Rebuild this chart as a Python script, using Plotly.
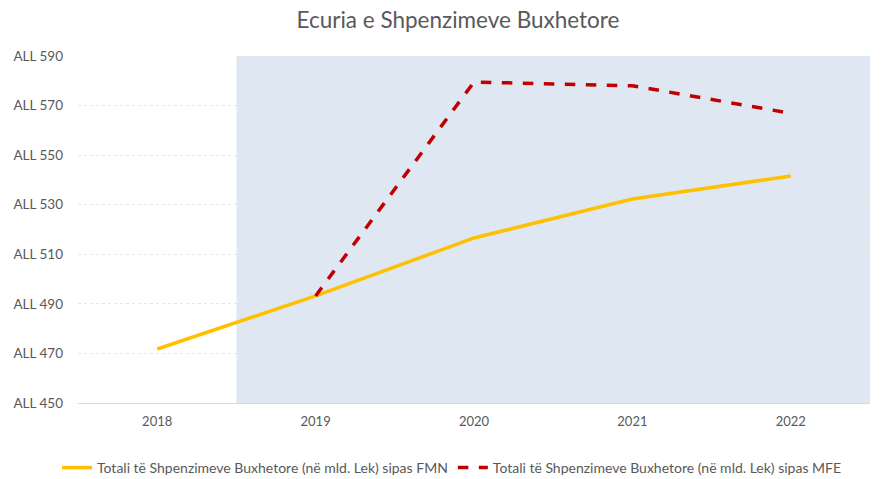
import plotly.graph_objects as go

years = ["2018", "2019", "2020", "2021", "2022"]
fmn_values = [471.8, 493.2, 516.6, 532.3, 541.6]
mfe_years = ["2019", "2020", "2021", "2022"]
mfe_values = [493.2, 579.5, 578.0, 566.9]
y_ticks = [450, 470, 490, 510, 530, 550, 570, 590]
y_tick_labels = ["ALL " + str(v) for v in y_ticks]

name_fmn = "Totali të Shpenzimeve Buxhetore (në mld. Lek) sipas FMN"
name_mfe = "Totali të Shpenzimeve Buxhetore (në mld. Lek) sipas MFE"

FONT = "Lato, 'Open Sans', sans-serif"

fig = go.Figure()
fig.add_trace(go.Scatter(x=years, y=fmn_values, mode="lines", name=name_fmn,
                         line=dict(color="#FFC000", width=3.5)))
fig.add_trace(go.Scatter(x=mfe_years, y=mfe_values, mode="lines", name=name_mfe,
                         line=dict(color="#C00000", width=3.5, dash="dash")))

fig.add_shape(type="rect", xref="x", yref="paper", x0=0.5, x1=4.5, y0=0, y1=1,
              fillcolor="#DFE7F2", line=dict(width=0), layer="below")

fig.update_layout(
    width=890, height=479,
    margin=dict(l=78, r=20, t=56, b=76, autoexpand=False),
    paper_bgcolor="white", plot_bgcolor="white",
    font=dict(family=FONT, color="#595959", size=13),
    title=dict(text="Ecuria e Shpenzimeve Buxhetore", x=458 / 890, xanchor="center",
               xref="container", yref="container",
               y=1 - 20 / 479, yanchor="middle",
               font=dict(size=22.5, color="#595959", family=FONT)),
    showlegend=True,
    legend=dict(orientation="h", x=(452 - 78) / 792, xanchor="center",
                y=-(468 - 403) / 347, yanchor="middle",
                font=dict(size=14, color="#595959"),
                traceorder="normal"),
    xaxis=dict(type="category", range=[-0.5, 4.5], showgrid=False,
               showline=True, linecolor="#D9D9D9", linewidth=1,
               ticks="", automargin=False, ticklabelstandoff=6,
               tickfont=dict(size=13, color="#595959")),
    yaxis=dict(range=[450, 590], tickvals=y_ticks, ticktext=y_tick_labels,
               showgrid=True, gridcolor="#E6E6E6", griddash="dot", gridwidth=1,
               zeroline=False, showline=False, ticks="", automargin=False,
               ticklabelstandoff=14,
               tickfont=dict(size=13.5, color="#595959")),
)

fig.write_html("out.html", config={"displayModeBar": False},
               post_script="document.body.style.margin='0';")
